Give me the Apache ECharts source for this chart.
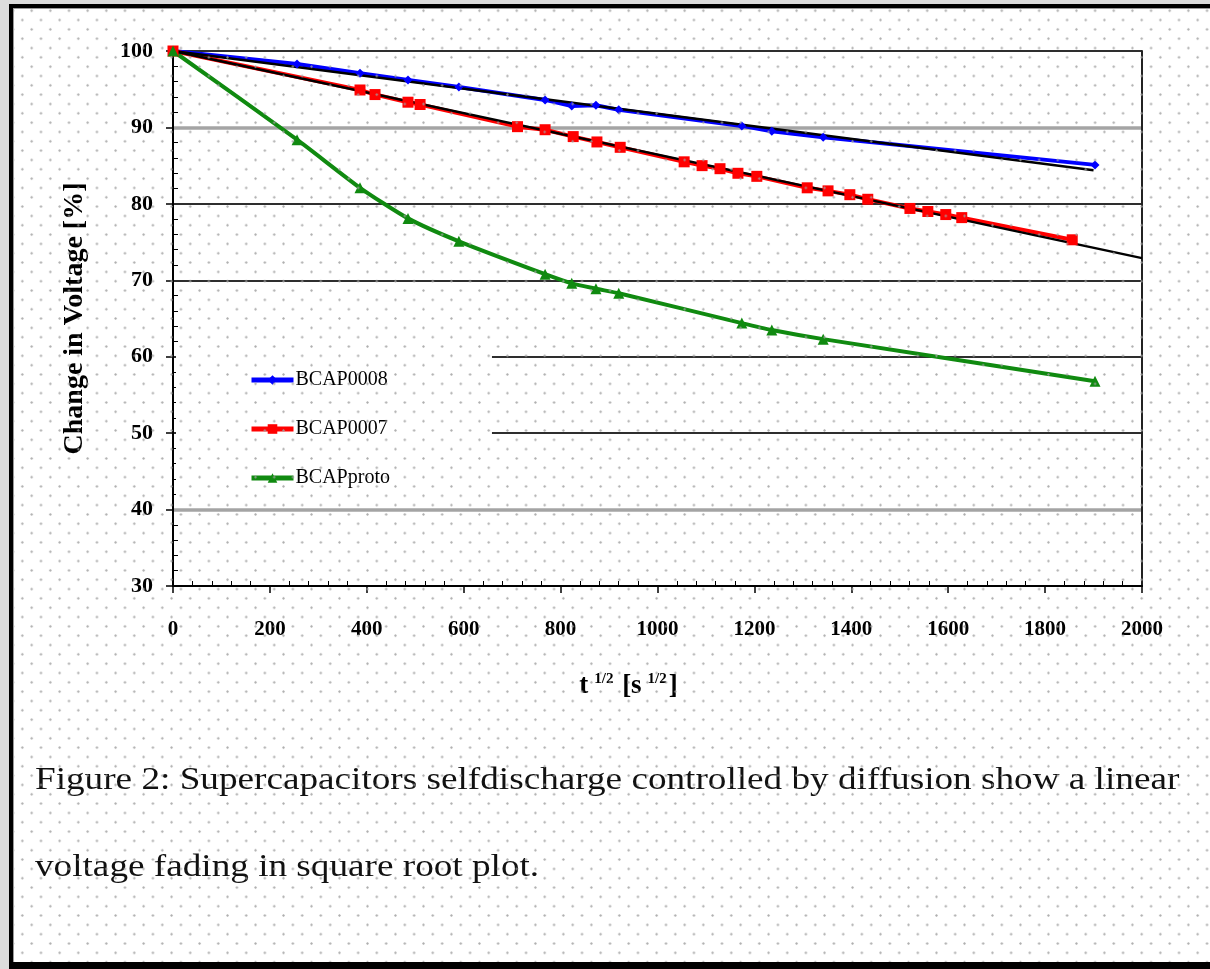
<!DOCTYPE html>
<html>
<head>
<meta charset="utf-8">
<script src="https://cdn.jsdelivr.net/npm/echarts@6/dist/echarts.min.js"></script>
<style>
  html, body { margin: 0; padding: 0; width: 1210px; height: 969px; overflow: hidden; background: #dcdcdc; }
  #frame {
    position: absolute; left: 9px; top: 4px; width: 1300px; height: 954px;
    border-top: 4px solid #000; border-left: 4px solid #000; border-bottom: 7px solid #000;
    background: #fff; box-shadow: inset 1px 1px 0 #9a9a9a;
  }
  #chart { position: absolute; left: 0; top: 0; width: 1210px; height: 969px; }
  #dots {
    position: absolute; left: 13px; top: 8px; width: 1200px; height: 954px; pointer-events: none;
    background-image:
      radial-gradient(circle, rgba(160,160,160,0.85) 0.8px, rgba(160,160,160,0) 1.5px),
      radial-gradient(circle, rgba(160,160,160,0.85) 0.8px, rgba(160,160,160,0) 1.5px);
    background-size: 18.667px 18.667px, 18.667px 18.667px;
    background-position: -9.3px -6.6px, 0px 2.7px;
  }
</style>
</head>
<body>
<div id="frame"></div>
<div id="chart"></div>
<div id="dots"></div>
<script>
// sqrt(t) sampling points shared by BCAP0008 and BCAPproto
const xShared = [0, 256, 386, 485, 590, 768, 823, 873, 920, 1174, 1236, 1342, 1903];
const bcap0008 = [100, 98.3, 97.1, 96.2, 95.3, 93.6, 92.8, 92.9, 92.3, 90.2, 89.5, 88.7, 85.1];
const bcapProto = [100, 88.4, 82.1, 78.1, 75.1, 70.8, 69.6, 68.9, 68.3, 64.4, 63.5, 62.3, 56.8];

// BCAP0007 has its own sampling points
const xBcap0007 = [0, 386, 417, 485, 510, 711, 768, 826, 875, 923, 1055, 1092, 1129, 1166, 1205,
                   1309, 1352, 1397, 1434, 1521, 1558, 1595, 1628, 1856];
const bcap0007 = [100, 94.9, 94.3, 93.3, 93.0, 90.1, 89.7, 88.8, 88.1, 87.4, 85.5, 85.0, 84.6, 84.0, 83.6,
                  82.1, 81.7, 81.2, 80.6, 79.4, 79.0, 78.6, 78.2, 75.3];

// linear fits (end points)
const fitX0008 = [0, 1900];
const fitY0008 = [100, 84.4];
const fitX0007 = [0, 2000];
const fitY0007 = [100, 72.9];

const yTicks = [30, 40, 50, 60, 70, 80, 90, 100];
const xTicks = [0, 200, 400, 600, 800, 1000, 1200, 1400, 1600, 1800, 2000];

const captionLines = [
  'Figure 2: Supercapacitors selfdischarge controlled by diffusion show a linear',
  'voltage fading in square root plot.'
];

const pair = (xs, ys) => xs.map((x, i) => [x, ys[i]]);
const serif = '"Liberation Serif", "Times New Roman", serif';

// dark grid lines everywhere except 40 and 90, which are drawn wide and grey
const darkGrid = yTicks.map(v => (v === 40 || v === 90 || v === 30) ? 'rgba(0,0,0,0)' : '#2e2e2e');
const greyGrid = yTicks.map(v => (v === 40 || v === 90) ? '#a4a4a4' : 'rgba(0,0,0,0)');

const chart = echarts.init(document.getElementById('chart'), null, { renderer: 'canvas' });

chart.setOption({
  backgroundColor: 'transparent',
  animation: false,
  textStyle: { fontFamily: serif },
  grid: { left: 173, right: 68, top: 51, bottom: 383, containLabel: false },
  xAxis: {
    type: 'value', min: xTicks[0], max: xTicks[xTicks.length - 1], interval: 200,
    name: 't{sup|1/2} [s{sup|1/2}]',
    nameLocation: 'middle', nameGap: 86,
    nameTextStyle: {
      fontFamily: serif, fontWeight: 'bold', fontSize: 27, color: '#000',
      padding: [0, 58, 0, 0],
      rich: { sup: { fontFamily: serif, fontWeight: 'bold', fontSize: 15, verticalAlign: 'top', padding: [0, 2, 14, 6] } }
    },
    axisLine: { show: true, onZero: false, lineStyle: { color: '#000', width: 2 } },
    axisTick: { show: true, inside: false, length: 7, lineStyle: { color: '#000', width: 1.5 } },
    minorTick: { show: true, splitNumber: 5, length: -5, lineStyle: { color: '#000', width: 1 } },
    axisLabel: {
      color: '#000', fontFamily: serif, fontWeight: 'bold', fontSize: 21, margin: 33,
      formatter: v => String(v)
    },
    splitLine: { show: false }
  },
  yAxis: [
    {
      type: 'value', min: yTicks[0], max: yTicks[yTicks.length - 1], interval: 10,
      name: 'Change in Voltage [%]',
      nameLocation: 'middle', nameGap: 84, nameRotate: 90,
      nameTextStyle: { fontFamily: serif, fontWeight: 'bold', fontSize: 28, color: '#000' },
      axisLine: { show: true, lineStyle: { color: '#000', width: 2 } },
      axisTick: { show: true, inside: false, length: 7, lineStyle: { color: '#000', width: 1.5 } },
      minorTick: { show: true, splitNumber: 5, length: -5, lineStyle: { color: '#000', width: 1 } },
      axisLabel: { color: '#000', fontFamily: serif, fontWeight: 'bold', fontSize: 22, margin: 20 },
      splitLine: { show: true, lineStyle: { color: darkGrid, width: 2 } }
    },
    {
      type: 'value', min: yTicks[0], max: yTicks[yTicks.length - 1], interval: 10,
      position: 'right',
      axisLine: { show: true, lineStyle: { color: '#222', width: 2 } },
      axisTick: { show: false },
      axisLabel: { show: false },
      splitLine: { show: true, lineStyle: { color: greyGrid, width: 3.5 } }
    }
  ],
  legend: {
    orient: 'vertical',
    left: 176, top: 346,
    padding: [24, 102, 11, 73],
    backgroundColor: '#ffffff',
    itemWidth: 42, itemHeight: 12, itemGap: 29,
    lineStyle: { width: 5 },
    textStyle: { fontFamily: serif, fontSize: 20, color: '#000', lineHeight: 20, padding: [0, 0, 0, -3] },
    data: [
      { name: 'BCAP0008', itemStyle: { color: '#0000ff' } },
      { name: 'BCAP0007', itemStyle: { color: '#ff0000' } },
      { name: 'BCAPproto', itemStyle: { color: '#108a10' } }
    ]
  },
  series: [
    {
      name: 'BCAP0008', type: 'line', yAxisIndex: 0,
      data: pair(xShared, bcap0008),
      symbol: 'diamond', symbolSize: 9,
      itemStyle: { color: '#0000ff' },
      lineStyle: { color: '#0000ff', width: 4 }
    },
    {
      name: 'BCAP0007', type: 'line', yAxisIndex: 0,
      data: pair(xBcap0007, bcap0007),
      symbol: 'rect', symbolSize: 11,
      itemStyle: { color: '#ff0000' },
      lineStyle: { color: '#ff0000', width: 4 }
    },
    {
      name: 'BCAPproto', type: 'line', yAxisIndex: 0,
      data: pair(xShared, bcapProto),
      smooth: 0.2,
      symbol: 'triangle', symbolSize: 11,
      itemStyle: { color: '#108a10' },
      lineStyle: { color: '#108a10', width: 4 }
    },
    {
      name: 'fit0008', type: 'line', yAxisIndex: 0,
      data: pair(fitX0008, fitY0008),
      symbol: 'none', silent: true,
      lineStyle: { color: '#000', width: 2.5 }
    },
    {
      name: 'fit0007', type: 'line', yAxisIndex: 0,
      data: pair(fitX0007, fitY0007),
      symbol: 'none', silent: true,
      lineStyle: { color: '#000', width: 2.5 }
    }
  ],
  graphic: captionLines.map((line, i) => ({
    type: 'text',
    x: 35, y: 765 + i * 87,
    scaleX: 1.2,
    style: { text: line, fontFamily: serif, fontSize: 31, fill: '#111' }
  }))
});
</script>
</body>
</html>
